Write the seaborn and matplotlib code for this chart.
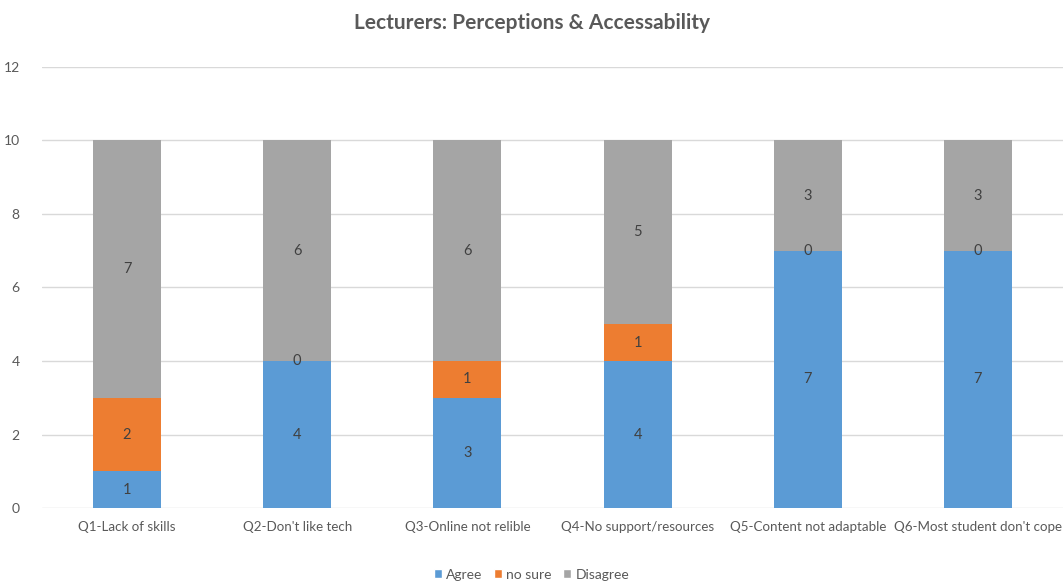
"""Stacked bar chart of lecturer perceptions and accessibility."""

import matplotlib.pyplot as plt
import pandas as pd
import seaborn as sns
from matplotlib.patches import Patch

questions = [
    "Q1-Lack of skills",
    "Q2-Don't like tech",
    "Q3-Online not relible",
    "Q4-No support/resources",
    "Q5-Content not adaptable",
    "Q6-Most student don't cope",
]
agree = [1, 4, 3, 4, 7, 7]
no_sure = [2, 0, 1, 1, 0, 0]
disagree = [7, 6, 6, 5, 3, 3]

series_names = ["Agree", "no sure", "Disagree"]
colors = ["#5B9BD5", "#ED7D31", "#A5A5A5"]

sns.set_style("white")
plt.rcParams["font.family"] = ["Lato", "DejaVu Sans"]

df = pd.DataFrame({"question": questions, "Agree": agree, "no sure": no_sure, "Disagree": disagree})
df["c_agree"] = df["Agree"]
df["c_nosure"] = df["Agree"] + df["no sure"]
df["c_total"] = df["c_nosure"] + df["Disagree"]

fig = plt.figure(figsize=(10.63, 5.85), dpi=100)
ax = fig.add_axes([0.0395, 0.1316, 0.9605, 0.7539])

# draw cumulative totals back to front
for col, color in zip(["c_total", "c_nosure", "c_agree"], colors[::-1]):
    sns.barplot(data=df, x="question", y=col, color=color, width=0.4,
                saturation=1, linewidth=0, ax=ax, zorder=3)

# segment labels
for i, row in df.iterrows():
    base = 0
    for name in series_names:
        v = row[name]
        ax.text(i, base + v / 2, f"{v}", ha="center", va="center",
                fontsize=10.5, color="#404040", zorder=4)
        base += v

ax.set_ylim(0, 12)
ax.set_xlim(-0.5, 5.5)
ax.set_yticks(range(0, 13, 2))
ax.yaxis.grid(True, color="#D9D9D9", linewidth=1, zorder=0)
ax.set_axisbelow(True)
for s in ax.spines.values():
    s.set_visible(False)
ax.tick_params(axis="both", length=0, labelsize=10, colors="#595959")
ax.tick_params(axis="x", pad=9, labelsize=9.6)
ax.tick_params(axis="y", pad=16)
ax.set_xlabel("")
ax.set_ylabel("")

fig.suptitle("Lecturers: Perceptions & Accessability", y=0.978,
             fontsize=15, fontweight="bold", color="#595959")

handles = [Patch(facecolor=c, label=n) for n, c in zip(series_names, colors)]
fig.legend(handles=handles, loc="lower center", bbox_to_anchor=(0.5, -0.014),
           ncol=3, frameon=False, fontsize=10, handlelength=0.6, handleheight=0.6,
           handletextpad=0.3, columnspacing=0.8, labelcolor="#595959")

fig.savefig("out.png", dpi=100)
plt.close(fig)
